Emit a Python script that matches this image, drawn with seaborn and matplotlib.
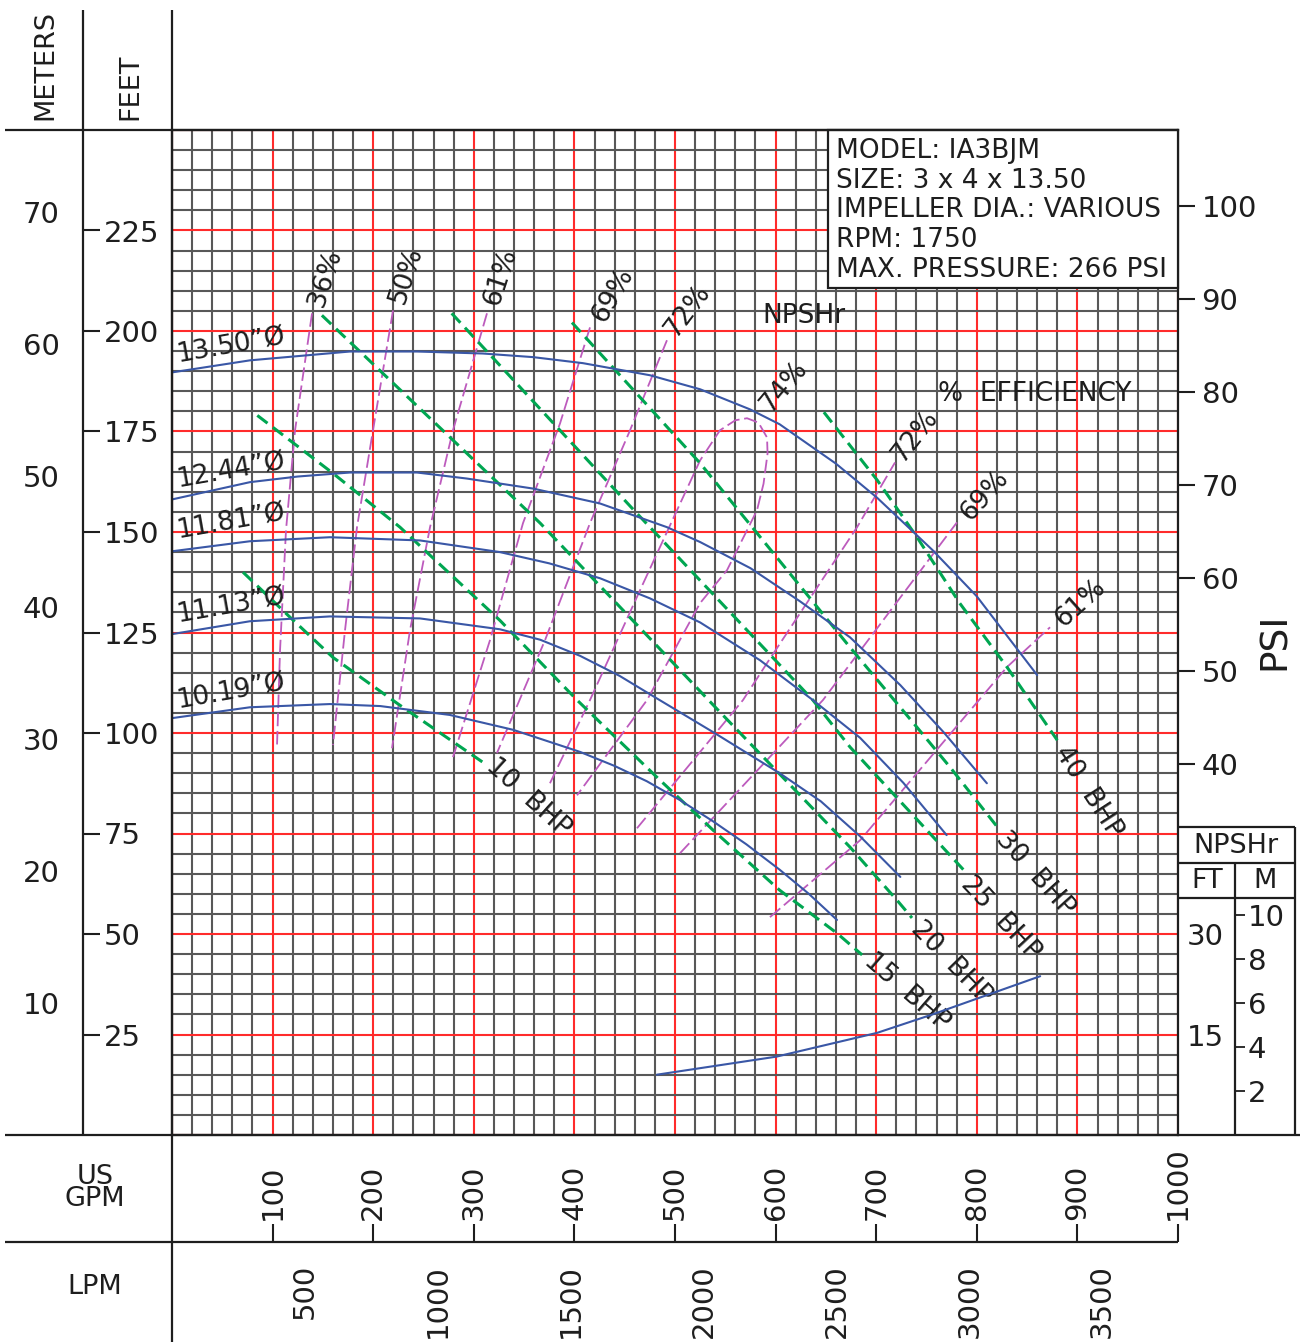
import matplotlib
matplotlib.use("Agg")
import matplotlib.pyplot as plt
from matplotlib.patches import Rectangle
import numpy as np
import seaborn as sns

# ---------------- data (flow in US GPM, head in feet) ----------------
dia_labels = ['13.50”Ø', '12.44”Ø', '11.81”Ø', '11.13”Ø', '10.19”Ø']

h1350_q = [0, 77.5, 177, 243.5, 309, 359, 408.5, 475, 525, 574.6, 604, 660, 701, 756, 800, 860]
h1350_h = [189.7, 192.7, 194.9, 194.9, 194.4, 193.5, 192.0, 189.0, 185.5, 180.5, 176.8, 167.0, 158.5, 145.5, 134.0, 114.4]
h1244_q = [0, 77.5, 125, 177, 243.5, 293, 359, 425.4, 492, 525, 575, 624, 674, 724, 767, 810]
h1244_h = [158.1, 162.4, 163.8, 164.8, 164.8, 163.3, 160.8, 157.1, 151.2, 147.5, 141.0, 132.8, 123.8, 111.9, 100.2, 87.5]
h1181_q = [0, 77.5, 157, 246.5, 326, 375, 425.4, 475, 525, 584.5, 637, 684, 727, 770]
h1181_h = [145.2, 147.7, 148.7, 147.9, 145.0, 142.2, 138.5, 133.5, 127.5, 118.1, 108.2, 98.8, 87.6, 74.6]
h1113_q = [0, 77.5, 157, 246.5, 326, 366, 405.6, 445, 482, 538, 604, 645, 684, 724]
h1113_h = [124.6, 127.8, 129.0, 128.5, 125.8, 123.2, 119.2, 114.2, 108.6, 100.2, 90.0, 83.0, 74.3, 64.2]
h1019_q = [0, 77.5, 157, 207, 276, 339, 405.6, 440, 472, 505, 538, 571, 604, 633, 661]
h1019_h = [103.7, 106.4, 107.2, 106.7, 104.5, 100.8, 95.3, 91.8, 88.0, 83.3, 78.0, 72.3, 66.0, 60.0, 53.5]

# NPSHr (feet of NPSHr scale)
npsh_q = [482, 601, 701, 756, 863]
npsh_ft = [9.0, 11.7, 15.25, 18.0, 23.7]

# brake horsepower lines
bhp_labels = ['10  BHP', '15  BHP', '20  BHP', '25  BHP', '30  BHP', '40  BHP']
bhp10_q = [70.6, 117.3, 160, 223.7, 309.1]
bhp10_h = [140.0, 128.8, 118.8, 107.4, 92.7]
bhp15_q = [84.8, 160, 226.6, 326, 402.6, 482, 538, 604, 661, 686]
bhp15_h = [179.0, 164.6, 151.2, 128.0, 108.2, 89.0, 75.8, 60.9, 50.2, 44.8]
bhp20_q = [149, 366, 544.7, 674, 720.7, 735.6]
bhp20_h = [203.9, 152.2, 105.2, 71.6, 58.4, 54.0]
bhp25_q = [278, 457, 637, 674, 790]
bhp25_h = [204.4, 156.0, 108.2, 96.5, 65.1]
bhp30_q = [397.6, 525, 674, 740.6, 773.4, 823]
bhp30_h = [202.1, 167.1, 121.3, 101.4, 91.5, 75.8]
bhp40_q = [648, 701, 740.6, 783, 830, 880]
bhp40_h = [179.8, 162.9, 148.7, 132.3, 116.4, 98.2]

# iso-efficiency lines
e36_q = [139.2, 122.3, 113.3, 107.4, 104.4]
e36_h = [204.4, 175.3, 150.4, 120.6, 97.0]
e50_q = [219.7, 199.8, 183.9, 172, 160]
e50_h = [205.1, 175.3, 151.2, 125.6, 97.0]
e61l_q = [313.1, 279.3, 256.5, 236.6, 218.7]
e61l_h = [204.4, 175.3, 151.2, 125.6, 96.2]
e69l_q = [415.5, 385.7, 348.9, 316.1, 279.3]
e69l_h = [200.9, 177.0, 152.2, 123.1, 94.0]
e72l_q = [492, 455.3, 415.5, 370.8, 323]
e72l_h = [197.7, 175.3, 152.2, 123.1, 95.0]
e74_q = [375.7, 415.5, 465.2, 524.9, 544.7, 560, 571.6, 583, 591.5, 592, 588, 581.5, 551.7, 524.9, 472.2, 402.6]
e74_h = [87.5, 108.2, 135.5, 167.8, 175.3, 177.8, 178.3, 177.2, 173.5, 169.5, 162.0, 155.4, 140.5, 132.3, 108.2, 84.5]
e72r_q = [462.2, 567.6, 591.5, 681, 718.7]
e72r_h = [76.3, 108.2, 117.4, 151.2, 167.3]
e69r_q = [505, 647.1, 780.3]
e69r_h = [70.1, 108.2, 152.4]
e61r_q = [594.4, 683.9, 830, 872.8]
e61r_h = [54.2, 73.3, 116.4, 126.3]

feet_ticks = [25, 50, 75, 100, 125, 150, 175, 200, 225]
meter_ticks = [10, 20, 30, 40, 50, 60, 70]
psi_ticks = [40, 50, 60, 70, 80, 90, 100]
gpm_ticks = [100, 200, 300, 400, 500, 600, 700, 800, 900, 1000]
lpm_ticks = [500, 1000, 1500, 2000, 2500, 3000, 3500]
npsh_ft_ticks = [15, 30]
npsh_m_ticks = [2, 4, 6, 8, 10]

info_lines = ["MODEL: IA3BJM", "SIZE: 3 x 4 x 13.50", "IMPELLER DIA.: VARIOUS",
              "RPM: 1750", "MAX. PRESSURE: 266 PSI"]

# ---------------- style ----------------
sns.set_style("white")
plt.rcParams["font.family"] = ["DejaVu Sans"]
INK = "#1e1e1e"
BLUE = "#3a57a6"
GREEN = "#00a651"
PINK = "#bd5bbd"
RED = "#ff2b2b"
GRAY = "#585858"

W, H = 1300, 1342
fig = plt.figure(figsize=(13, 13.42), dpi=100)


def fbox(x0, y0, x1, y1):
    return [x0 / W, 1 - y1 / H, (x1 - x0) / W, (y1 - y0) / H]


GX0, GX1, GY0, GY1 = 172, 1178, 130, 1135

ax = fig.add_axes(fbox(GX0, GY0, GX1, GY1))
ax.set_xlim(0, 1000)
ax.set_ylim(0, 250)
ax.set_xticks(np.arange(0, 1001, 100))
ax.set_xticks(np.arange(0, 1001, 20), minor=True)
ax.set_yticks(np.arange(0, 251, 25))
ax.set_yticks(np.arange(0, 251, 5), minor=True)
ax.grid(which="minor", color=GRAY, lw=1.5)
ax.grid(which="major", color=RED, lw=1.5)
ax.set_axisbelow(True)
ax.tick_params(which="both", length=0, labelbottom=False, labelleft=False)
for s in ax.spines.values():
    s.set_color(INK)
    s.set_linewidth(1.6)


def line(q, h, target=None, **kw):
    sns.lineplot(x=q, y=h, ax=target or ax, sort=False, estimator=None,
                 errorbar=None, legend=False, **kw)


green_ls = (0, (4.2, 2.2))
pink_ls = (0, (7.5, 2.6))

for q, h in [(e36_q, e36_h), (e50_q, e50_h), (e61l_q, e61l_h), (e69l_q, e69l_h),
             (e72l_q, e72l_h), (e74_q, e74_h), (e72r_q, e72r_h), (e69r_q, e69r_h),
             (e61r_q, e61r_h)]:
    line(q, h, color=PINK, lw=1.3, linestyle=pink_ls)

for q, h in [(bhp10_q, bhp10_h), (bhp15_q, bhp15_h), (bhp20_q, bhp20_h),
             (bhp25_q, bhp25_h), (bhp30_q, bhp30_h), (bhp40_q, bhp40_h)]:
    line(q, h, color=GREEN, lw=2.2, linestyle=green_ls)

for q, h in [(h1350_q, h1350_h), (h1244_q, h1244_h), (h1181_q, h1181_h),
             (h1113_q, h1113_h), (h1019_q, h1019_h)]:
    line(q, h, color=BLUE, lw=1.5)

# NPSHr curve on its own scale (0-150 ft across the grid height)
axn = ax.twinx()
axn.set_ylim(0, 150)
axn.axis("off")
line(npsh_q, npsh_ft, target=axn, color=BLUE, lw=1.5)

# ---------------- curve labels ----------------
tk = dict(color=INK, fontsize=19, rotation_mode="anchor")
for lab, (x, y) in zip(dia_labels, [(6, 192.2), (6, 161.1), (6, 148.4), (6, 127.5), (6, 106.2)]):
    ax.text(x, y, lab, rotation=10, ha="left", va="baseline", **tk)

eff_txt = [("36%", 143, 206.3, 72), ("50%", 223.6, 207.1, 72), ("61%", 318, 206.4, 72),
           ("69%", 423.5, 202.6, 60), ("72%", 495, 199.4, 53), ("74%", 589.5, 180.8, 50),
           ("72%", 720.7, 168.3, 52), ("69%", 788.3, 153.7, 48), ("61%", 880.7, 127.3, 42)]
for lab, x, y, r in eff_txt:
    ax.text(x, y, lab, rotation=r, ha="left", va="center", **tk)

bhp_pos = [(316, 92.7, -42), (691.8, 44.0, -41), (738.6, 52.2, -46),
           (788.3, 63.4, -47), (823, 74.6, -48), (882.7, 96.2, -57)]
for lab, (x, y, r) in zip(bhp_labels, bhp_pos):
    ax.text(x, y, lab, rotation=r, ha="left", va="center", **tk)

ax.text(586.5, 201.9, "NPSHr", ha="left", va="baseline", **tk)
ax.text(761.4, 182.7, "%  EFFICIENCY", ha="left", va="baseline", **tk)

# ---------------- scale axes ----------------
TS = 21


def bare(a):
    for s in a.spines.values():
        s.set_visible(False)
    a.patch.set_visible(False)
    a.grid(False)


axm = fig.add_axes(fbox(83, GY0, GX0, GY1))
bare(axm)
axm.set_ylim(0, 250 / 3.28084)
axm.set_yticks(meter_ticks)
axm.set_xticks([])
axm.tick_params(axis="y", direction="out", length=15, width=1.5, labelsize=TS, pad=2,
                colors=INK)

axf = fig.add_axes(fbox(0, GY0, 83, GY1))
bare(axf)
axf.set_ylim(0, 250)
axf.yaxis.tick_right()
axf.set_yticks(feet_ticks)
axf.set_xticks([])
axf.tick_params(axis="y", direction="out", length=12, width=1.5, labelsize=TS, pad=3,
                colors=INK)

axp = ax.twinx()
bare(axp)
axp.set_ylim(0, 250 / 2.31)
axp.set_yticks(psi_ticks)
axp.tick_params(axis="y", direction="out", length=12, width=1.5, labelsize=TS, pad=5,
                colors=INK)

axnf = fig.add_axes(fbox(1235, GY0, 1295, GY1))
bare(axnf)
axnf.set_ylim(0, 150)
axnf.set_yticks(npsh_ft_ticks)
axnf.set_xticks([])
axnf.tick_params(axis="y", direction="out", length=7, width=1.3, labelsize=TS, pad=1,
                 colors=INK)

axnm = fig.add_axes(fbox(1178, GY0, 1235, GY1))
bare(axnm)
axnm.set_ylim(0, 150 / 3.28084)
axnm.yaxis.tick_right()
axnm.set_yticks(npsh_m_ticks)
axnm.set_xticks([])
axnm.tick_params(axis="y", direction="out", length=7, width=1.3, labelsize=TS, pad=2,
                 colors=INK)

axg = fig.add_axes(fbox(GX0, 1242, GX1, H))
bare(axg)
axg.set_xlim(0, 1000)
axg.xaxis.tick_top()
axg.set_xticks(gpm_ticks)
axg.set_yticks([])
axg.tick_params(axis="x", direction="out", length=13, width=1.5, labelsize=TS, pad=3,
                labelrotation=90, colors=INK)

axl = fig.add_axes(fbox(GX0, GY1, GX1, 1242))
bare(axl)
axl.set_xlim(0, 1000 * 3.78541)
axl.set_xticks(lpm_ticks)
axl.set_yticks([])
axl.tick_params(axis="x", direction="out", length=14, width=1.5, labelsize=TS, pad=2,
                labelrotation=90, colors=INK)

# ---------------- frame, headers, info box (pixel overlay) ----------------
ov = fig.add_axes([0, 0, 1, 1], zorder=5)
ov.set_xlim(0, W)
ov.set_ylim(H, 0)
ov.axis("off")
lk = dict(color=INK, lw=1.6, solid_capstyle="butt")
for xs, ys in [((5, GX1), (GY0, GY0)), ((83, 83), (10, GY1)), ((GX0, GX0), (10, H)),
               ((5, 1300), (GY1, GY1)), ((5, GX1), (1242, 1242)),
               ((GX1, 1295), (827, 827)), ((1295, 1295), (827, GY1)),
               ((GX1, 1295), (863, 863)), ((GX1, 1295), (898, 898)),
               ((1235, 1235), (863, GY1))]:
    ov.plot(xs, ys, **lk)

hk = dict(color=INK, fontsize=19.5)
ov.text(45, 120, "METERS", rotation=90, ha="center", va="bottom", **hk)
ov.text(130, 120, "FEET", rotation=90, ha="center", va="bottom", **hk)
ov.text(95, 1188, "US\nGPM", ha="center", va="center", linespacing=0.85,
        multialignment="center", **hk)
ov.text(95, 1287, "LPM", ha="center", va="center", **hk)
ov.text(1275, 641, "PSI", rotation=90, ha="center", va="center", color=INK, fontsize=27)
ov.text(1236, 846, "NPSHr", ha="center", va="center", **hk)
ov.text(1207, 881, "FT", ha="center", va="center", **hk)
ov.text(1265, 881, "M", ha="center", va="center", **hk)

ov.add_patch(Rectangle((828, GY0), GX1 - 828, 288 - GY0, facecolor="white",
                       edgecolor=INK, lw=1.6))
for i, t in enumerate(info_lines):
    ov.text(836, 158 + i * 29.7, t, ha="left", va="baseline", color=INK, fontsize=19)

fig.savefig("out.png", dpi=100)
